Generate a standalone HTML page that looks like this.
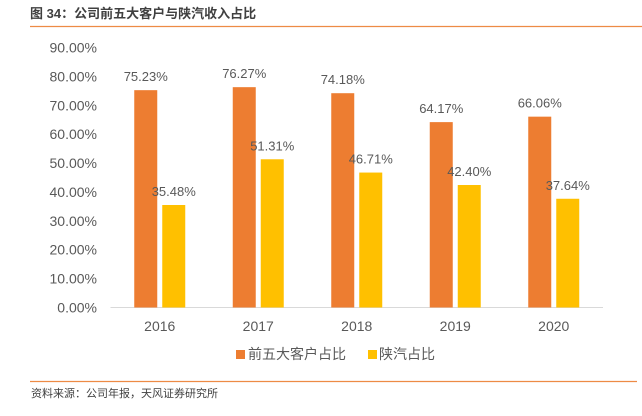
<!DOCTYPE html>
<html><head><meta charset="utf-8"><style>
body{margin:0;background:#fff;}
svg text{font-family:"Liberation Sans","Noto Sans CJK SC",sans-serif;}
</style></head><body>
<svg width="642" height="411" viewBox="0 0 642 411">
<text x="30" y="18" font-size="13" font-weight="bold" fill="#404040">图 34：公司前五大客户与陕汽收入占比</text>
<line x1="30" y1="26.5" x2="642" y2="26.5" stroke="#ED8B45" stroke-width="1.2"/>
<g id="yaxis"></g>
<line x1="110.5" y1="307.5" x2="603" y2="307.5" stroke="#d9d9d9" stroke-width="1"/>
<g id="bars"></g>
<g id="xaxis"></g>
<rect x="236" y="350" width="9" height="9" fill="#ED7D31"/>
<text x="248" y="359" font-size="14" fill="#595959">前五大客户占比</text>
<rect x="368" y="350" width="9" height="9" fill="#FFC000"/>
<text x="379" y="359" font-size="14" fill="#595959">陕汽占比</text>
<line x1="30" y1="381.5" x2="637" y2="381.5" stroke="#ED8B45" stroke-width="1.2"/>
<text x="31" y="397" font-size="11" fill="#404040">资料来源：公司年报，天风证券研究所</text>
</svg>
<script>
const categories=["2016","2017","2018","2019","2020"];
const top5=[75.23,76.27,74.18,64.17,66.06];
const shaanqi=[35.48,51.31,46.71,42.40,37.64];
const yTicks=[0,10,20,30,40,50,60,70,80,90];
const NS="http://www.w3.org/2000/svg";
const x0=110.5,x1=603,y0=307.5,yTop=47.5,yMax=90;
const ys=v=>y0-(v/yMax)*(y0-yTop);
const band=(x1-x0)/categories.length;
const xc=i=>x0+band*(i+0.5);
function mk(tag,attrs,parent){const e=document.createElementNS(NS,tag);for(const k in attrs)e.setAttribute(k,attrs[k]);parent.appendChild(e);return e;}
const ya=document.getElementById('yaxis'),bg=document.getElementById('bars'),xa=document.getElementById('xaxis');
yTicks.forEach(t=>{const e=mk('text',{x:97,y:ys(t)+5,'font-size':14,fill:'#595959','text-anchor':'end'},ya);e.textContent=t.toFixed(2)+'%';

});
categories.forEach((c,i)=>{
const cx=xc(i),w=23;
const r1=mk('rect',{x:cx-w-2.5,y:ys(top5[i]),width:w,height:y0-ys(top5[i]),fill:'#ED7D31'},bg);


const r2=mk('rect',{x:cx+2.5,y:ys(shaanqi[i]),width:w,height:y0-ys(shaanqi[i]),fill:'#FFC000'},bg);


const l1=mk('text',{x:cx-w/2-2.5,y:ys(top5[i])-9,'font-size':13,fill:'#595959','text-anchor':'middle'},bg);l1.textContent=top5[i].toFixed(2)+'%';


const l2=mk('text',{x:cx+w/2+2.5,y:ys(shaanqi[i])-9,'font-size':13,fill:'#595959','text-anchor':'middle'},bg);l2.textContent=shaanqi[i].toFixed(2)+'%';


const xl=mk('text',{x:cx,y:331,'font-size':14,fill:'#595959','text-anchor':'middle'},xa);xl.textContent=c;


});
</script>
</body></html>
